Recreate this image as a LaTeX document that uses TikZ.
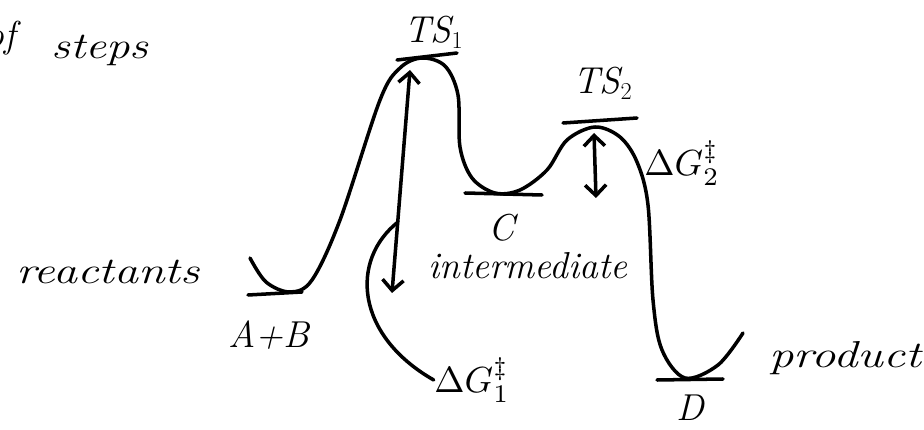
\documentclass[tikz,border=0pt]{standalone}
\usepackage{amsmath,amssymb}
\usepackage{tikz}
\usetikzlibrary{arrows.meta,positioning,calc}

\tikzset{
  hand/.style={line width=3pt, line cap=round, line join=round},
  lbl/.style={font=\fontsize{32}{34}\selectfont\itshape, inner sep=0pt},
  wide/.style={transform shape, xscale=#1},
  gibbs/.style={inner sep=0pt, transform shape, scale=3.1},
  barrier/.style={hand, {Straight Barb[length=9pt,width=18pt]}-{Straight Barb[length=9pt,width=18pt]}},
}

\begin{document}
\begin{tikzpicture}[x=0.03cm,y=-0.03cm]
\useasboundingbox (0,0) rectangle (924,430);
\clip (0,0) rectangle (924,430);
% energy profile
\draw[hand] plot[smooth,tension=0.55] coordinates {(250,258) (266,282) (290,292) (312,280) (340,220) (380,100) (400,68) (422,58) (445,66) (458,95) (460,147) (472,178) (495,193) (520,190) (547,170) (567,140) (595,127) (620,137) (637,162) (648,205) (653,300) (662,350) (685,378) (718,365) (743,333)};
% levels
\coordinate (abl) at (248,295); \coordinate (abr) at (302,292);
\coordinate (ts1l) at (397,60); \coordinate (ts1r) at (457,53);
\coordinate (cl) at (465,193); \coordinate (cr) at (542,195);
\coordinate (ts2l) at (563,123); \coordinate (ts2r) at (637,118);
\coordinate (dl) at (657,380); \coordinate (dr) at (723,379);
\draw[hand] (abl) -- (abr);
\draw[hand] (ts1l) -- (ts1r);
\draw[hand] (cl) -- (cr);
\draw[hand] (ts2l) -- (ts2r);
\draw[hand] (dl) -- (dr);
% labels
\node[lbl] (ts1) at (434,32) {TS$_1$};
\node[lbl] (ts2) at (603,83) {TS$_2$};
\node[lbl] (c) at (502,228) {C};
\node[lbl] (ab) at (269,335) {A+B};
\node[lbl] (d) at (690,408) {D};
\node[lbl,wide=1.28] (react) at (108,272) {reactants};
\node[lbl] (inter) at (528,266) {intermediate};
\node[lbl,wide=1.3] (prod) at (845,358) {product};
\node[lbl,wide=1.25] (steps) at (100,50) {steps};
\node[lbl,anchor=east] (of) at (16,38) {of};
\node[gibbs] (dg1) at (472,380) {$\Delta G_1^{\ddagger}$};
\node[gibbs] (dg2) at (682,163) {$\Delta G_2^{\ddagger}$};
% barriers
\coordinate (g1top) at (410,70); \coordinate (g1bot) at (392,293);
\coordinate (g2top) at (594,133); \coordinate (g2bot) at (596,198);
\draw[barrier] (g1bot) -- (g1top);
\draw[barrier] (g2bot) -- (g2top);
\coordinate (brk) at (398,222);
\draw[hand] (brk) .. controls (350,260) and (355,335) .. (dg1.west);
\end{tikzpicture}
\end{document}
